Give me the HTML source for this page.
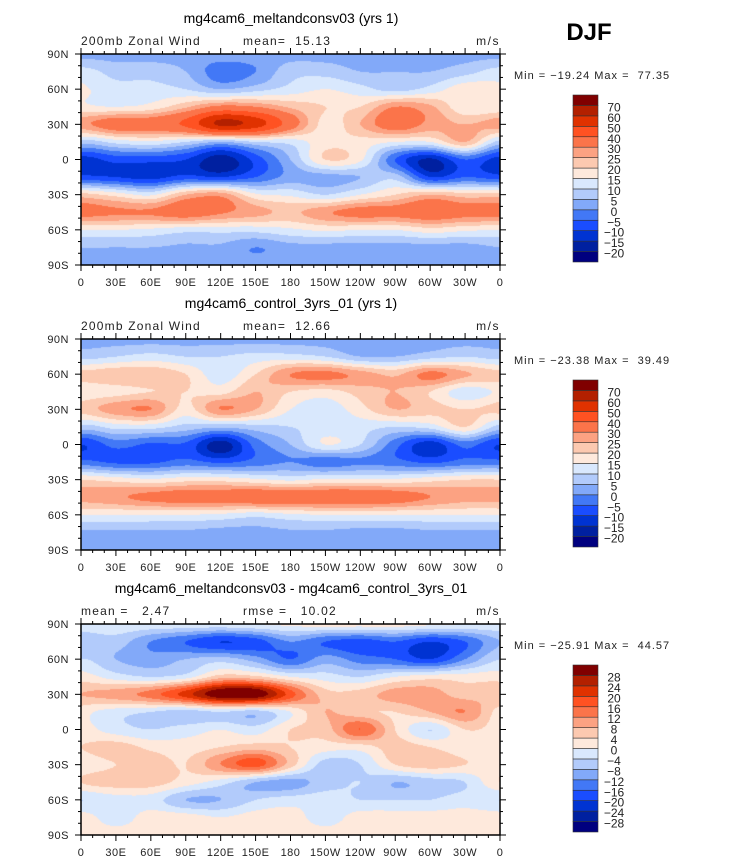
<!DOCTYPE html>
<html><head><meta charset="utf-8"><style>
body{margin:0;background:#fff;width:732px;height:865px;position:relative;overflow:hidden;font-family:"Liberation Sans",sans-serif}
canvas{position:absolute}
svg{position:absolute;left:0;top:0}
svg text{white-space:pre}
</style></head><body>
<canvas id="m0" width="419" height="211" style="left:81px;top:54px"></canvas>
<canvas id="m1" width="419" height="211" style="left:81px;top:339px"></canvas>
<canvas id="m2" width="419" height="211" style="left:81px;top:624px"></canvas>
<svg id="ov" width="732" height="865"></svg>
<script>
// latitudes 90N..90S by 15, longitudes 0..330 by 30
const lats=[90,75,60,45,30,15,0,-15,-30,-45,-60,-75,-90];
const lons=[0,30,60,90,120,150,180,210,240,270,300,330];
const field1=[
[3,3,3,3,3,3,3,3,3,3,3,3],
[12,8,8,5,-3,0,8,8,5,5,5,8],
[16,12,12,10,5,8,12,15,12,8,12,18],
[16,15,17,24,32,30,24,20,20,30,26,16],
[28,35,35,42,62,55,35,18,25,35,28,25],
[8,12,14,10,5,10,12,18,18,15,15,25],
[-12,-8,-8,-10,-18,-8,5,20,16,-5,-16,-5],
[-8,-10,-12,-8,-10,-5,2,3,5,8,-10,-5],
[22,18,14,25,28,16,14,10,15,20,25,22],
[33,31,31,35,31,27,24,29,33,33,36,33],
[15,15,14,12,12,12,14,16,15,15,18,16],
[5,5,5,4,4,0,3,3,3,3,3,3],
[3,3,3,3,3,3,3,3,3,3,3,3]];
const field2=[
[3,3,3,3,3,3,3,3,3,3,3,3],
[8,10,12,10,10,12,12,10,5,5,8,10],
[22,24,24,20,12,20,30,32,28,24,32,26],
[16,18,20,20,18,25,20,18,22,25,20,12],
[22,28,30,18,30,25,15,12,18,25,22,20],
[8,12,12,8,6,8,10,12,12,10,12,20],
[-10,-3,-6,-6,-18,-3,5,15,10,-3,-13,-3],
[-3,-6,-6,-3,-6,-3,0,-3,-1,-3,-6,-3],
[20,18,16,18,18,16,14,16,16,16,18,20],
[27,29,32,34,34,36,36,36,36,34,30,27],
[15,15,15,15,14,12,14,15,15,15,15,15],
[4,4,4,4,3,3,4,4,3,3,4,4],
[2,2,2,2,2,2,2,2,2,2,2,2]];
const field3=[
[-1,-1,-1,-1,-1,0,1,2,2,2,1,0],
[-8,-6,-12,-16,-20,-18,-12,-16,-18,-16,-20,-16],
[-4,-8,-10,-8,-6,-10,-16,-10,-14,-16,-20,-12],
[2,-2,-4,-2,6,5,0,-2,-4,0,2,2],
[8,10,14,22,32,32,18,6,6,10,10,6],
[2,-2,-4,-6,-4,-6,0,8,5,4,8,12],
[2,-2,-4,-2,0,-2,4,6,16,4,-4,4],
[4,6,3,2,4,6,4,2,2,6,4,2],
[2,4,6,4,12,18,6,-6,-4,4,6,4],
[4,6,6,2,-2,-8,-10,-6,-4,-8,-6,-4],
[-4,-2,-2,-8,-8,-4,-2,-2,-4,-4,-4,-2],
[2,-2,2,2,0,2,2,-2,2,2,2,2],
[2,2,2,2,2,2,2,2,2,2,2,2]];
const levels1=[-20,-15,-10,-5,0,5,10,15,20,25,30,40,50,60,70];
const levels3=[-28,-24,-20,-16,-12,-8,-4,0,4,8,12,16,20,24,28];
const titles=["mg4cam6_meltandconsv03 (yrs 1)","mg4cam6_control_3yrs_01 (yrs 1)","mg4cam6_meltandconsv03 - mg4cam6_control_3yrs_01"];
const leftHdr=["200mb Zonal Wind","200mb Zonal Wind","mean =   2.47"];
const midHdr=["mean=  15.13","mean=  12.66","rmse =   10.02"];
const minmax=["Min = \u221219.24 Max =  77.35","Min = \u221223.38 Max =  39.49","Min = \u221225.91 Max =  44.57"];
const latTicks=["90N","60N","30N","0","30S","60S","90S"];
const lonTicks=["0","30E","60E","90E","120E","150E","180","150W","120W","90W","60W","30W","0"];
const colors=["#00007f","#0020a0","#0033d2","#1a4dff","#4278f6","#82a9f9","#b2cbfb","#d9e8fd","#fee9dc","#fcc9b0","#fca282","#fb744a","#ff5222","#e03200","#b32000","#800000"];

function cr(p0,p1,p2,p3,t){return 0.5*((2*p1)+(-p0+p2)*t+(2*p0-5*p1+4*p2-p3)*t*t+(-p0+3*p1-3*p2+p3)*t*t*t);}
function sample(f,lat,lon){
  const r=(90-lat)/15, c=lon/30;
  const r1=Math.floor(r), c1=Math.floor(c), tr=r-r1, tc=c-c1;
  const nr=lats.length, nc=lons.length;
  const row=i=>f[Math.max(0,Math.min(nr-1,i))];
  const vals=[];
  for(let i=-1;i<=2;i++){const R=row(r1+i);
    const g=j=>R[((c1+j)%nc+nc)%nc];
    vals.push(cr(g(-1),g(0),g(1),g(2),tc));}
  return cr(vals[0],vals[1],vals[2],vals[3],tr);
}
function lvl(v,levels){let k=0;while(k<levels.length&&v>=levels[k])k++;return k;}
function draw(id,f,levels){
  const cv=document.getElementById(id),ctx=cv.getContext('2d');
  const W=cv.width,H=cv.height,img=ctx.createImageData(W,H);
  const rgb=colors.map(h=>[parseInt(h.slice(1,3),16),parseInt(h.slice(3,5),16),parseInt(h.slice(5,7),16)]);
  for(let y=0;y<H;y++){const lat=90-180*(y+0.5)/H;
    for(let x=0;x<W;x++){const lon=360*(x+0.5)/W;
      const c=rgb[lvl(sample(f,lat,lon),levels)],o=(y*W+x)*4;
      img.data[o]=c[0];img.data[o+1]=c[1];img.data[o+2]=c[2];img.data[o+3]=255;}}
  ctx.putImageData(img,0,0);
}
draw('m0',field1,levels1);draw('m1',field2,levels1);draw('m2',field3,levels3);

const NS="http://www.w3.org/2000/svg",ov=document.getElementById('ov');
function el(t,a,txt){const e=document.createElementNS(NS,t);for(const k in a)e.setAttribute(k,a[k]);if(txt!==undefined)e.textContent=txt;ov.appendChild(e);return e;}
const X0=81,W=419,H=211,tops=[54,339,624];
const big=el('text',{x:589,y:40,'font-size':24,'font-weight':'bold','text-anchor':'middle',fill:'#000'},'DJF');


tops.forEach((T,p)=>{
  const levels=p==2?levels3:levels1;
  const t=el('text',{x:291,y:T-31,'font-size':14,'text-anchor':'middle'},titles[p]);
  
  
  const l=el('text',{x:X0,y:T-9,'font-size':12,fill:'#222','letter-spacing':1.2},leftHdr[p]);
  
  
  const m=el('text',{x:243,y:T-9,'font-size':12,fill:'#222','letter-spacing':1.2},midHdr[p]);
  
  
  const u=el('text',{x:500,y:T-9,'font-size':12,'text-anchor':'end',fill:'#222','letter-spacing':1.5},'m/s');
  
  
  const mm=el('text',{x:514,y:T+25,'font-size':11,fill:'#222','letter-spacing':1},minmax[p]);
  
  
  const box=el('rect',{x:X0,y:T,width:W,height:H,fill:'none',stroke:'#000','stroke-width':1.5});
  
  
  for(let lon=0;lon<=360;lon+=10){const x=X0+W*lon/360,len=lon%30==0?6:3;
    el('line',{x1:x,y1:T,x2:x,y2:T-len,stroke:'#000'});el('line',{x1:x,y1:T+H,x2:x,y2:T+H+len,stroke:'#000'});}
  for(let lat=-90;lat<=90;lat+=10){const y=T+H*(90-lat)/180,len=lat%30==0?6:3;
    el('line',{x1:X0,y1:y,x2:X0-len,y2:y,stroke:'#000'});el('line',{x1:X0+W,y1:y,x2:X0+W+len,y2:y,stroke:'#000'});}
  latTicks.forEach((s,i)=>{const a=el('text',{x:X0-12,y:T+H*i/6+4,'font-size':11,'text-anchor':'end',fill:'#222','letter-spacing':0.5},s);
    
    });
  lonTicks.forEach((s,i)=>{const a=el('text',{x:X0+W*i/12,y:T+H+21,'font-size':11,'text-anchor':'middle',fill:'#222','letter-spacing':0.5},s);
    
    });
  const cbTop=T+41,cbH=167,n=colors.length,bh=cbH/n;
  for(let k=0;k<n;k++){const r=el('rect',{x:573,y:cbTop+(n-1-k)*bh,width:25,height:bh,fill:colors[k],stroke:'#333','stroke-width':0.6});
    
    }
  levels.forEach((v,k)=>{const y=cbTop+(n-1-k)*bh;
    const a=el('text',{x:614,y:y+6,'font-size':12,fill:'#222','text-anchor':'middle'},v<0?'\u2212'+(-v):String(v));
    
    });
});
</script>
</body></html>
